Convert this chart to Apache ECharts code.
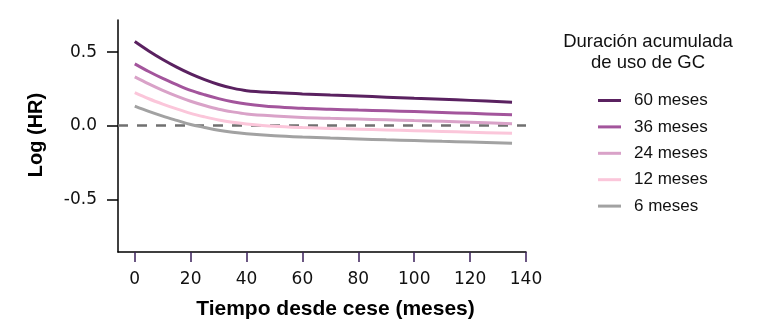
<!DOCTYPE html>
<html>
<head>
<meta charset="utf-8">
<script src="https://cdn.jsdelivr.net/npm/echarts@6/dist/echarts.min.js"></script>
<style>html,body{margin:0;padding:0;background:#fff}#c{width:760px;height:330px}</style>
</head>
<body>
<div id="c"></div>
<script>
// Time since cessation (months)
const months = [0,5,10,15,20,25,30,35,40,50,60,70,80,90,100,110,120,135];
// Log(HR) per cumulative duration of GC use
const m60 = [0.572,0.508,0.450,0.398,0.352,0.313,0.280,0.255,0.238,0.225,0.216,0.208,0.201,0.194,0.187,0.180,0.172,0.160];
const m36 = [0.420,0.368,0.321,0.279,0.240,0.210,0.184,0.163,0.148,0.128,0.118,0.112,0.106,0.101,0.096,0.090,0.084,0.074];
const m24 = [0.332,0.284,0.240,0.201,0.166,0.137,0.112,0.094,0.080,0.066,0.056,0.050,0.045,0.040,0.035,0.030,0.024,0.014];
const m12 = [0.224,0.183,0.147,0.114,0.084,0.060,0.039,0.023,0.012,-0.004,-0.013,-0.019,-0.024,-0.029,-0.034,-0.039,-0.044,-0.052];
const m6  = [0.133,0.097,0.065,0.036,0.008,-0.012,-0.031,-0.045,-0.055,-0.068,-0.077,-0.084,-0.090,-0.096,-0.101,-0.106,-0.111,-0.120];
const seriesNames = ['60 meses','36 meses','24 meses','12 meses','6 meses'];
const xTicks = [0,20,40,60,80,100,120,140];
const yTicks = [-0.5,0,0.5];

const colors = ['#5a2160','#a3559c','#d9a2c8','#fbc6da','#a2a2a2'];
const values = [m60,m36,m24,m12,m6];

const chart = echarts.init(document.getElementById('c'), null, {renderer:'canvas'});
const series = values.map((v,i)=>({
  name: seriesNames[i],
  type:'line',
  data: months.map((t,j)=>[t,v[j]]),
  showSymbol:false,
  smooth:0.35,
  lineStyle:{color:colors[i],width:3},
  itemStyle:{color:colors[i]},
  z: 3 + i,
  silent:true
}));
series.push({
  type:'line', data:[], silent:true,
  markLine:{
    silent:true, symbol:['none','none'], label:{show:false},
    lineStyle:{color:'#707070',width:2.5,type:[10,9]},
    data:[{yAxis:0}]
  },
  z:2
});

chart.setOption({
  animation:false,
  backgroundColor:'#fff',
  grid:{left:118,right:234,top:20,bottom:78,containLabel:false},
  xAxis:{
    type:'value', min:-6, max:140,
    axisLine:{show:true,onZero:false,lineStyle:{color:'#000',width:1.5}},
    axisTick:{show:true,customValues:xTicks,length:10,lineStyle:{color:'#3b1f5a',width:1.5}},
    axisLabel:{customValues:xTicks,margin:19,fontFamily:'DejaVu Sans',fontSize:17,color:'#111'},
    splitLine:{show:false}
  },
  yAxis:{
    type:'value', min:-0.858, max:0.718,
    axisLine:{show:true,onZero:false,lineStyle:{color:'#000',width:1.5}},
    axisTick:{show:true,customValues:yTicks,length:11,lineStyle:{color:'#000',width:1.5}},
    axisLabel:{customValues:yTicks,margin:21,fontFamily:'DejaVu Sans',fontSize:17,color:'#111',
      formatter:v=>v.toFixed(1)},
    splitLine:{show:false}
  },
  legend:{
    orient:'vertical', left:593, top:87,
    itemWidth:23, itemHeight:3, itemGap:9.4, icon:'rect',
    textStyle:{fontFamily:'Liberation Sans',fontSize:17,color:'#111',lineHeight:16,padding:[0,0,0,8]},
    data:seriesNames, selectedMode:false
  },
  graphic:[
    {type:'text',x:648,y:31,style:{text:'Duración acumulada\nde uso de GC',align:'center',verticalAlign:'top',
      font:'18.5px "Liberation Sans"',lineHeight:21.5,fill:'#111'}},
    {type:'text',x:335.5,y:309,style:{text:'Tiempo desde cese (meses)',align:'center',verticalAlign:'middle',
      font:'bold 21px "Liberation Sans"',fill:'#000'}},
    {type:'text',x:36,y:135,rotation:Math.PI/2,style:{text:'Log (HR)',align:'center',verticalAlign:'middle',
      font:'bold 20px "Liberation Sans"',fill:'#000'}}
  ],
  series:series
});
</script>
</body>
</html>
